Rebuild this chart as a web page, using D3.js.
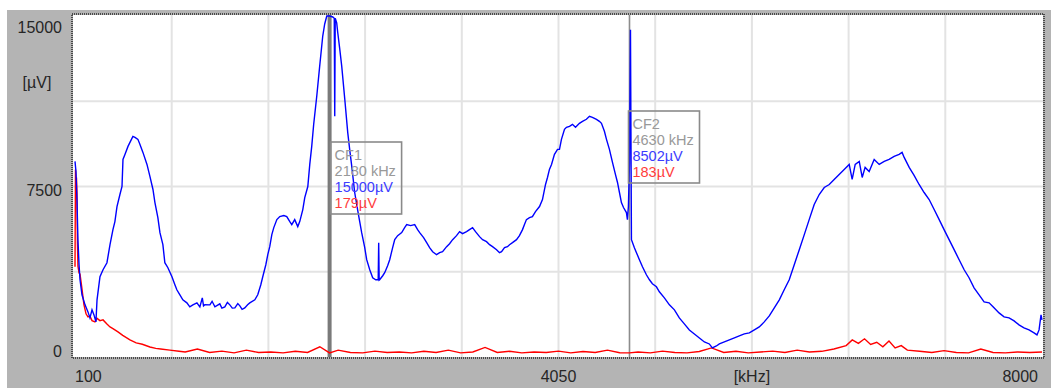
<!DOCTYPE html>
<html>
<head>
<meta charset="utf-8">
<script src="https://cdn.jsdelivr.net/npm/d3@7"></script>
<style>
  html, body { margin: 0; padding: 0; background: #ffffff; }
  svg { display: block; font-family: "Liberation Sans", Arial, sans-serif; }
</style>
</head>
<body>
<svg id="chart" width="1051" height="388"></svg>
<script>
// ---------- data ----------
const xTicks = [100, 4050, 8000];
const xUnit = "[kHz]";
const yTicks = [0, 7500, 15000];
const yUnit = "[µV]";

// blue trace: [frequency kHz, amplitude µV]
const blueSeries = [
  [100,8603],[108,8162],[116,6927],[124,5162],[133,4059],[141,3397],[157,2735],[182,2294],[206,1985],[222,1721],
  [239,2074],[255,1853],[271,1544],[280,2515],[304,3530],[329,3838],[361,4147],[386,4941],[410,5603],[426,5956],
  [443,6618],[467,7147],[484,7500],[492,8692],[508,8912],[533,9265],[549,9442],[573,9706],[590,9662],[614,9574],
  [630,9354],[655,9000],[688,8471],[712,7942],[737,7368],[753,6794],[777,6133],[794,5471],[818,4941],[834,4147],
  [859,3927],[892,3530],[916,3177],[932,2956],[957,2735],[981,2515],[1014,2382],[1038,2206],[1063,2294],[1096,2382],
  [1120,2206],[1140,2600],[1150,2250],[1161,2300],[1202,2294],[1220,2450],[1243,2206],[1283,2338],[1300,2150],[1324,2206],
  [1345,2400],[1365,2294],[1385,2150],[1406,2162],[1430,2350],[1447,2250],[1465,2100],[1487,2162],[1510,2300],[1528,2382],
  [1569,2515],[1593,2735],[1618,3177],[1634,3530],[1659,4059],[1675,4500],[1691,4853],[1708,5383],
  [1724,5692],[1749,6044],[1773,6177],[1806,6221],[1830,6177],[1855,5956],[1871,5824],[1895,6044],[1920,5736],[1936,5956],
  [1961,6486],[1977,7015],[2002,7500],[2018,8471],[2034,9265],[2050,10236],[2075,11471],[2099,12795],[2124,14118],[2140,14648],
  [2157,15000],[2181,15000],[2206,14957],[2218,14900],[2222,10589],[2226,14900],[2238,14700],[2246,14295],[2263,13545],[2279,12795],
  [2304,11339],[2328,9883],[2344,9133],[2361,8383],[2385,7236],[2410,6442],[2426,5956],[2442,5471],[2467,4809],[2483,4280],
  [2508,3838],[2532,3486],[2557,3397],[2577,3400],[2581,5030],[2585,3380],[2589,3397],[2614,3574],[2630,3706],[2654,4015],
  [2671,4280],[2695,4809],[2712,5162],[2736,5338],[2769,5471],[2793,5692],[2810,5824],[2842,5780],[2875,5824],[2899,5603],
  [2916,5471],[2948,5250],[2973,5030],[2997,4809],[3022,4632],[3054,4500],[3079,4588],[3103,4632],[3136,4853],[3160,4985],
  [3185,5162],[3217,5338],[3242,5515],[3266,5427],[3299,5515],[3323,5603],[3348,5692],[3372,5515],[3405,5294],[3430,5162],
  [3462,5074],[3487,4941],[3511,4853],[3544,4721],[3568,4588],[3585,4632],[3609,4809],[3633,4853],[3650,4941],[3674,5030],
  [3707,5162],[3731,5338],[3756,5603],[3772,5824],[3788,6044],[3813,6133],[3837,6177],[3862,6397],[3895,6618],[3919,6927],
  [3944,7589],[3960,7898],[3976,8250],[3993,8471],[4017,8912],[4042,9133],[4058,9133],[4074,9574],[4099,10015],[4115,10103],
  [4140,10147],[4164,10236],[4189,10103],[4221,10280],[4246,10368],[4278,10456],[4303,10589],[4327,10545],[4360,10456],[4384,10368],
  [4401,10280],[4425,9927],[4442,9574],[4466,9133],[4491,8559],[4515,8030],[4532,7677],[4548,7236],[4564,6794],[4581,6574],
  [4605,6353],[4613,6044],[4621,6618],[4630,8502],[4638,14400],[4646,5162],[4670,4809],[4687,4588],[4711,4280],[4736,3971],
  [4768,3618],[4793,3397],[4817,3221],[4850,3088],[4874,2868],[4915,2603],[4956,2294],[4997,2074],[5037,1721],[5078,1456],
  [5119,1191],[5160,1015],[5201,838],[5242,662],[5282,574],[5307,397],[5340,485],[5364,574],[5405,662],[5446,750],
  [5487,838],[5527,927],[5568,1015],[5609,1059],[5650,1191],[5690,1324],[5731,1544],[5772,1809],[5813,2162],[5854,2515],
  [5894,2956],[5935,3397],[5976,4059],[6017,4721],[6058,5383],[6098,6044],[6139,6706],[6180,7147],[6221,7456],[6262,7589],
  [6302,7809],[6343,8030],[6384,8250],[6425,8471],[6449,7809],[6474,8471],[6507,8603],[6531,7898],[6555,8339],[6588,8162],
  [6629,8692],[6670,8471],[6711,8603],[6751,8692],[6792,8824],[6833,8912],[6857,9000],[6874,8780],[6915,8339],[6955,7986],
  [6996,7589],[7037,7236],[7078,6927],[7119,6486],[7160,6044],[7200,5603],[7241,5162],[7282,4721],[7323,4280],[7364,3838],
  [7404,3486],[7445,3044],[7486,2735],[7527,2427],[7568,2382],[7608,2162],[7649,1941],[7690,1765],[7731,1721],[7772,1588],
  [7812,1412],[7853,1280],[7894,1191],[7935,1059],[7959,971],[7976,1191],[7992,1853],[8000,1632]
];

// red trace: [frequency kHz, amplitude µV]
const redSeries = [
  [100,3971],[104,8250],[108,7600],[112,7900],[116,7200],[120,5000],[124,4000],[133,3700],[141,3650],[157,3000],
  [173,2300],[190,1900],[206,1765],[222,1800],[239,1600],[263,1544],[280,1700],[304,1600],[329,1632],[361,1450],
  [386,1324],[410,1250],[451,1103],[490,950],[549,750],[600,620],[650,560],[712,440],[760,380],[800,350],
  [875,300],[950,250],[1000,220],[1100,350],[1200,200],[1300,260],[1400,180],[1500,300],[1600,200],[1700,220],
  [1800,180],[1900,250],[2000,200],[2100,450],[2180,179],[2250,300],[2350,200],[2450,180],[2550,260],[2650,200],
  [2750,220],[2850,180],[2950,250],[3050,200],[3150,300],[3250,180],[3350,220],[3450,420],[3550,200],[3650,250],
  [3750,180],[3850,220],[3950,200],[4050,260],[4150,180],[4250,240],[4350,200],[4450,300],[4550,190],[4630,183],
  [4700,220],[4800,180],[4900,260],[5000,200],[5100,180],[5200,240],[5300,400],[5400,200],[5500,250],[5600,180],
  [5700,220],[5800,260],[5900,200],[6000,300],[6100,220],[6200,250],[6300,350],[6400,500],[6450,750],[6500,600],
  [6550,800],[6600,550],[6650,650],[6700,450],[6750,700],[6800,400],[6850,500],[6900,300],[7000,250],[7100,200],
  [7200,280],[7300,200],[7400,180],[7500,350],[7600,200],[7700,180],[7800,220],[7900,200],[8000,220]
];

// cursors
const cursorNames = ["CF1", "CF2"];
const cursorFreqs = [2180, 4630];
const cursorBlue = [15000, 8502];
const cursorRed = [179, 183];

// ---------- layout ----------
const svg = d3.select("#chart");
const W = 1051, H = 388;
const plot = { left: 73, right: 1043, top: 15, bottom: 357 };

const x = d3.scaleLinear().domain([100, 8000]).range([75, 1042]);
const y = d3.scaleLinear().domain([0, 15000]).range([357, 16]);

// background panel
svg.append("rect").attr("x", 0).attr("y", 0).attr("width", W).attr("height", H).attr("fill", "#ffffff");
svg.append("rect").attr("x", 7).attr("y", 10).attr("width", W - 7).attr("height", H - 10).attr("fill", "#b4b4b4");
svg.append("rect").attr("x", plot.left).attr("y", plot.top)
  .attr("width", plot.right - plot.left).attr("height", plot.bottom - plot.top).attr("fill", "#ffffff");

// grid
const xGrid = d3.range(1, 10).map(i => 100 + i * 790);
const yGrid = [3750, 7500, 11250];
svg.append("g").selectAll("line").data(xGrid).join("line")
  .attr("x1", d => x(d)).attr("x2", d => x(d))
  .attr("y1", plot.top).attr("y2", plot.bottom)
  .attr("stroke", "#e3e3e3").attr("stroke-width", 2);
svg.append("g").selectAll("line").data(yGrid).join("line")
  .attr("x1", plot.left).attr("x2", plot.right)
  .attr("y1", d => y(d)).attr("y2", d => y(d))
  .attr("stroke", "#e3e3e3").attr("stroke-width", 2);

// clip
svg.append("defs").append("clipPath").attr("id", "clip")
  .append("rect").attr("x", plot.left).attr("y", plot.top)
  .attr("width", plot.right - plot.left).attr("height", plot.bottom - plot.top);

const g = svg.append("g").attr("clip-path", "url(#clip)");

// cursor lines
g.append("line").attr("x1", x(cursorFreqs[0])).attr("x2", x(cursorFreqs[0]))
  .attr("y1", plot.top).attr("y2", plot.bottom)
  .attr("stroke", "#7a7a7a").attr("stroke-width", 4);
g.append("line").attr("x1", x(cursorFreqs[1])).attr("x2", x(cursorFreqs[1]))
  .attr("y1", plot.top).attr("y2", plot.bottom)
  .attr("stroke", "#8c8c8c").attr("stroke-width", 1.6);

const line = d3.line().x(d => x(d[0])).y(d => y(d[1]));

g.append("path").datum(redSeries).attr("d", line)
  .attr("fill", "none").attr("stroke", "#ff0000").attr("stroke-width", 1.4);
g.append("path").datum(blueSeries).attr("d", line)
  .attr("fill", "none").attr("stroke", "#0000ff").attr("stroke-width", 1.4);

// dotted border
svg.append("rect").attr("x", plot.left - 1).attr("y", plot.top - 1)
  .attr("width", plot.right - plot.left + 2).attr("height", plot.bottom - plot.top + 2)
  .attr("fill", "none").attr("stroke", "#4a4a4a").attr("stroke-width", 2)
  .attr("stroke-dasharray", "1,1");

// cursor info boxes
const boxTops = [142, 111];
const boxOffsets = [1, -1];
cursorNames.forEach((name, i) => {
  const bx = x(cursorFreqs[i]) + boxOffsets[i];
  const by = boxTops[i];
  const bg = svg.append("g");
  bg.append("rect").attr("x", bx).attr("y", by).attr("width", 71).attr("height", 72)
    .attr("fill", "none").attr("stroke", "#8a8a8a").attr("stroke-width", 1.6);
  const lines = [
    [name, "#999999"],
    [cursorFreqs[i] + " kHz", "#999999"],
    [cursorBlue[i] + "µV", "#3c3cff"],
    [cursorRed[i] + "µV", "#ff3c3c"]
  ];
  lines.forEach((l, j) => {
    bg.append("text").attr("x", bx + 4).attr("y", by + 18 + j * 16)
      .attr("font-size", 14.5).attr("fill", l[1]).text(l[0]);
  });
});

// axis labels
const yLabelPos = { 15000: 33, 7500: 196, 0: 357 };
svg.append("g").selectAll("text").data(yTicks).join("text")
  .attr("x", 62).attr("y", d => yLabelPos[d])
  .attr("text-anchor", "end").attr("font-size", 16).attr("fill", "#262626")
  .text(d => d);
svg.append("text").attr("x", 37).attr("y", 88).attr("text-anchor", "middle")
  .attr("font-size", 16).attr("fill", "#262626").text(yUnit);

const xLabelAnchor = { 100: ["start", 75], 4050: ["middle", x(4050)], 8000: ["end", 1038] };
svg.append("g").selectAll("text").data(xTicks).join("text")
  .attr("x", d => xLabelAnchor[d][1]).attr("y", 382)
  .attr("text-anchor", d => xLabelAnchor[d][0]).attr("font-size", 16).attr("fill", "#262626")
  .text(d => d);
svg.append("text").attr("x", x(100 + 7 * 790)).attr("y", 382).attr("text-anchor", "middle")
  .attr("font-size", 16).attr("fill", "#262626").text(xUnit);
</script>
</body>
</html>
